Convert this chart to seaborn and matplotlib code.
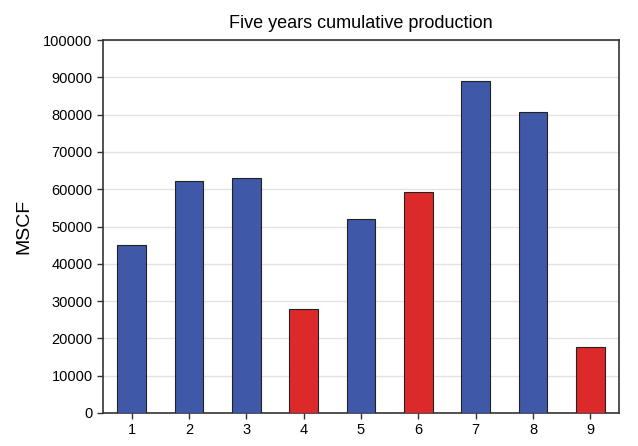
import matplotlib
matplotlib.use("Agg")
import matplotlib.pyplot as plt
import seaborn as sns
import pandas as pd

# data
wells = ["1", "2", "3", "4", "5", "6", "7", "8", "9"]
production = [45000, 62300, 63000, 27800, 52000, 59300, 89100, 80600, 17600]
kind = ["high", "high", "high", "low", "high", "low", "high", "high", "low"]

colors = {"high": "#3f58a8", "low": "#dc2a2a"}

sns.set_style("white")
plt.rcParams["font.family"] = ["Liberation Sans", "DejaVu Sans"]
plt.rcParams["text.color"] = "black"
plt.rcParams["axes.labelcolor"] = "black"
plt.rcParams["xtick.color"] = "black"
plt.rcParams["ytick.color"] = "black"

df = pd.DataFrame({"well": wells, "mscf": production, "kind": kind})

fig = plt.figure(figsize=(6.38, 4.46), dpi=100)
ax = fig.add_axes([0.1614, 0.074, 0.8089, 0.836])

sns.barplot(data=df, x="well", y="mscf", hue="kind", palette=colors,
            saturation=1, dodge=False, width=0.5, edgecolor="#222222",
            linewidth=0.8, legend=False, ax=ax, zorder=3)

ax.set_xlim(-0.5, 8.5)
ax.set_ylim(0, 100000)
ax.set_yticks(range(0, 100001, 10000))
ax.yaxis.grid(True, color="#e3e3e3", linewidth=1, zorder=0)
ax.set_axisbelow(True)

for s in ax.spines.values():
    s.set_color("#333333")
    s.set_linewidth(1.2)

ax.tick_params(axis="both", direction="out", length=4, width=1,
               color="#333333", labelsize=10.5, left=True, bottom=True)
ax.set_xlabel("")
ax.set_ylabel("MSCF", fontsize=14, labelpad=8)
ax.set_title("Five years cumulative production", fontsize=13, pad=9)

fig.savefig("out.png", dpi=100)
